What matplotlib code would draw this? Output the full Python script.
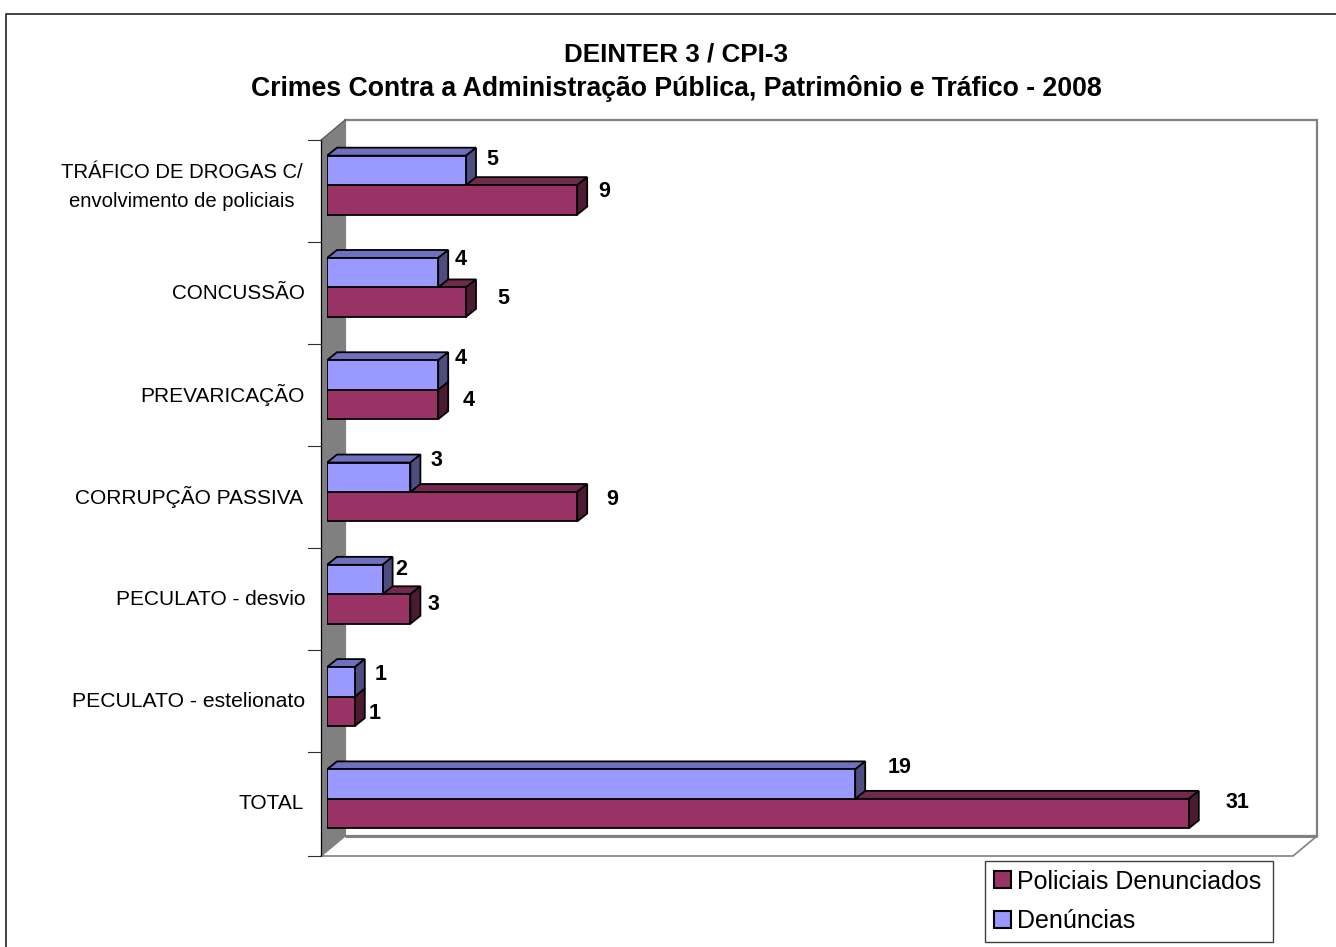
import matplotlib
matplotlib.use("Agg")
import matplotlib.pyplot as plt
from matplotlib.patches import Polygon, Rectangle
from matplotlib.lines import Line2D
from matplotlib.transforms import IdentityTransform

plt.rcParams['font.family'] = ['Liberation Sans', 'DejaVu Sans']

title_lines = ["DEINTER 3 / CPI-3",
               "Crimes Contra a Administração Pública, Patrimônio e Tráfico - 2008"]
categories = ["TRÁFICO DE DROGAS C/\nenvolvimento de policiais", "CONCUSSÃO", "PREVARICAÇÃO",
              "CORRUPÇÃO PASSIVA", "PECULATO - desvio", "PECULATO - estelionato", "TOTAL"]
denuncias = [5, 4, 4, 3, 2, 1, 19]
policiais = [9, 5, 4, 9, 3, 1, 31]
legend_labels = ["Policiais Denunciados", "Denúncias"]

# label placement (pixels from bar end / bar centre)
den_off = [(26, 10.5), (22, 13), (22, 16), (26, 17), (19, 10), (26, 7), (44, 17)]
pol_off = [(27, 8.5), (37, 4), (30, 4), (35, 7), (23, 5), (20, -2), (49, 11)]
cat_off = [(303, -2), (305, -6), (305, -5), (303, -5), (305, -5), (305, -5), (304, -5)]
cat_size = [14.6, 14.9, 15, 15, 15, 15.2, 15]

W, H = 1336, 947
fig = plt.figure(figsize=(W / 100, H / 100), dpi=100, facecolor='white')
PX = IdentityTransform()
def py(y):
    return H - y

# outer frame: left and top edges only reach the picture's border
fig.add_artist(Line2D([6, 6, W], [0, py(14), py(14)], transform=PX, color='#333333', lw=1.3))

# 3D chart box
L, R, T, B = 321, 1293, 140, 856
DX, DY = 24, 20
bg = fig.add_axes([0, 0, 1, 1], facecolor='none')
bg.set_axis_off()
bg.set_xlim(0, W); bg.set_ylim(H, 0)
GR = '#808080'
bg.add_patch(Polygon([(L + DX, T - DY), (R + DX, T - DY), (R + DX, B - DY), (L + DX, B - DY)],
                     facecolor='white', edgecolor=GR, lw=1.6))
bg.add_patch(Polygon([(L, T), (L + DX, T - DY), (L + DX, B - DY), (L, B)], facecolor=GR, edgecolor='none'))
bg.add_patch(Polygon([(L, B), (L + DX, B - DY), (R + DX, B - DY), (R, B)], facecolor='white', edgecolor=GR, lw=1.2))
bg.plot([L + DX, R + DX], [B - DY, B - DY], color=GR, lw=2.2, solid_capstyle='butt')
bg.plot([L, L + DX], [T, T - DY], color='#505050', lw=0.8)
bg.plot([L, L], [T, B], color='black', lw=0.9)
for y in [140, 242, 344, 446, 548, 650, 752, 856]:
    bg.plot([308, L], [y, y], color='#303030', lw=0.8)

# data axes: plane of the bar fronts
x0, x_end = 327, 1299
top, bot = 134, 850
ax = fig.add_axes([x0 / W, 1 - bot / H, (x_end - x0) / W, (bot - top) / H], facecolor='none')
ax.set_xlim(0, (x_end - x0) / 27.8)
ax.set_ylim(len(categories) - 0.5, -0.5)
ax.set_axis_off()

bar_h = 0.288
RED = ('#993366', '#72294f', '#4d1a33')
BLUE = ('#9999ff', '#7070c0', '#4d4d80')
dx, dy = 10, 8

def draw_bar(i, value, centre, colors, z):
    ax.barh(centre, value, height=bar_h, color=colors[0], edgecolor='black', lw=1.3, zorder=z + 0.2)
    (xa, ya), (xb, yb) = ax.transData.transform([(0, centre - bar_h / 2), (value, centre + bar_h / 2)])
    top_face = [(xa, ya), (xb, ya), (xb + dx, ya + dy), (xa + dx, ya + dy)]
    side_face = [(xb, ya), (xb + dx, ya + dy), (xb + dx, yb + dy), (xb, yb)]
    ax.add_patch(Polygon(top_face, transform=PX, facecolor=colors[1], edgecolor='black', lw=1.3, zorder=z))
    ax.add_patch(Polygon(side_face, transform=PX, facecolor=colors[2], edgecolor='black', lw=1.3, zorder=z + 0.1))

for i in range(len(categories)):
    draw_bar(i, policiais[i], i + bar_h / 2, RED, 3)
    draw_bar(i, denuncias[i], i - bar_h / 2, BLUE, 4)
    ax.annotate(str(denuncias[i]), (denuncias[i], i - bar_h / 2), xytext=den_off[i], textcoords='offset pixels',
                ha='center', va='center', fontsize=15.5, fontweight='bold', color='black', zorder=6)
    ax.annotate(str(policiais[i]), (policiais[i], i + bar_h / 2), xytext=pol_off[i], textcoords='offset pixels',
                ha='center', va='center', fontsize=15.5, fontweight='bold', color='black', zorder=6)
    ax.annotate(categories[i], (0, i), xycoords='data', xytext=(cat_off[i][0] - x0, cat_off[i][1]),
                textcoords='offset pixels', ha='right', va='center', fontsize=cat_size[i], color='black',
                linespacing=1.7, annotation_clip=False, multialignment='center')

fig.text(676 / W, 1 - 54 / H, title_lines[0], ha='center', va='center', fontsize=18.7, fontweight='bold')
fig.text(676 / W, 1 - 88 / H, title_lines[1], ha='center', va='center', fontsize=19.2, fontweight='bold')

handles = [Rectangle((0, 0), 1, 1, facecolor=RED[0], edgecolor='black', lw=1.5),
           Rectangle((0, 0), 1, 1, facecolor=BLUE[0], edgecolor='black', lw=1.5)]
leg = fig.legend(handles, legend_labels, loc='lower left', bbox_to_anchor=(985 / W, 1 - 942 / H, 288 / W, 82 / H),
                 mode='expand', fontsize=18, frameon=True, fancybox=False, framealpha=1, edgecolor='#404040',
                 handlelength=0.68, handleheight=0.68, handletextpad=0.24, labelspacing=0.62, borderaxespad=0,
                 borderpad=0.36)
leg.get_frame().set_linewidth(1.0)

fig.savefig('out.png', dpi=100)
